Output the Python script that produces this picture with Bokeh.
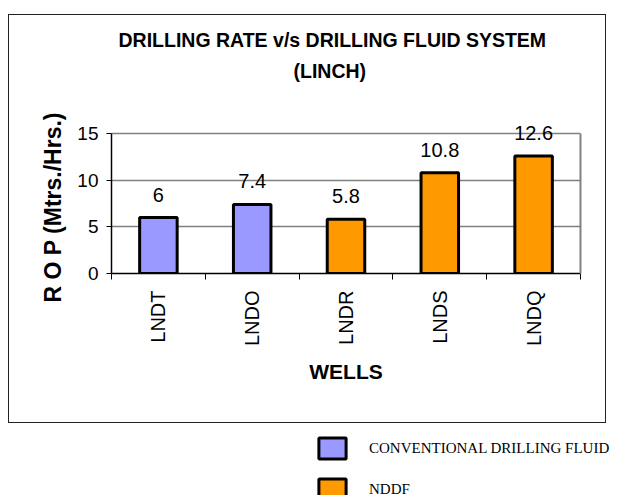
import math
import numpy as np
from bokeh.plotting import figure
from bokeh.layouts import column
from bokeh.models import (ColumnDataSource, FixedTicker, LabelSet, Range1d,
                          Title, LinearAxis, Legend, LegendItem)
from bokeh.core.properties import value
from bokeh.embed import file_html
from bokeh.resources import INLINE

# ---- data ----
wells = ["LNDT", "LNDO", "LNDR", "LNDS", "LNDQ"]
rop = [6, 7.4, 5.8, 10.8, 12.6]
fluid = ["CONVENTIONAL DRILLING FLUID", "CONVENTIONAL DRILLING FLUID",
         "NDDF", "NDDF", "NDDF"]
series_names = ["CONVENTIONAL DRILLING FLUID", "NDDF"]
series_colors = ["#9999FF", "#FF9900"]
y_ticks = [0, 5, 10, 15]
title_lines = ["DRILLING RATE v/s DRILLING FLUID SYSTEM", "(LINCH)"]
y_title = "R O P (Mtrs./Hrs.)"
x_title = "WELLS"

# ---- layout (pixels) ----
CW, CH = 598, 409                      # chart box (inside its border)
FL, FR, FT, FB = 102, 571, 67, 258     # frame edges inside the chart box
AREA_TOP = 118                         # where the value 15 sits (px)
Y_TOP = y_ticks[-1] * (FB - FT) / (FB - AREA_TOP)   # white headroom above 15

xpos = [i + 0.5 for i in range(len(wells))]
colors = [series_colors[series_names.index(f)] for f in fluid]
src = ColumnDataSource(dict(x=xpos, rop=rop, color=colors,
                            label=[f"{v:g}" for v in rop]))

p = figure(width=CW, height=CH, output_backend="svg", toolbar_location=None,
           x_range=Range1d(0, len(wells)), y_range=Range1d(0, Y_TOP),
           min_border_left=FL, min_border_right=CW - FR,
           min_border_top=FT, min_border_bottom=CH - FB,
           margin=(14, 0, 0, 8),
           styles={"border": "1px solid #222222"})
p.background_fill_color = "white"
p.border_fill_color = "white"
p.outline_line_color = None

bars = p.vbar(x="x", top="rop", width=0.4, source=src, fill_color="color",
              line_color="black", line_width=3)

# y axis
ya = p.yaxis[0]
ya.ticker = FixedTicker(ticks=y_ticks)
ya.bounds = (y_ticks[0], y_ticks[-1])
ya.major_label_text_font = "Liberation Sans"
ya.major_label_text_font_size = "19px"
ya.major_label_text_color = "black"
ya.major_label_standoff = 8
ya.major_tick_out = 5
ya.major_tick_in = 0
ya.minor_tick_line_color = None
ya.axis_line_color = "black"
ya.axis_line_width = 1.5
ya.major_tick_line_color = "black"

# y axis title (as a side title so it can sit lower than the frame centre)
p.add_layout(Title(text=y_title, align="left", offset=-29,
                   text_font="Liberation Sans", text_font_style="bold",
                   text_font_size="23px", text_color="black",
                   standoff=18), "left")

# right border of the plot area (grey), an axis with no ticks
ra = LinearAxis(bounds=(y_ticks[0], y_ticks[-1]), ticker=FixedTicker(ticks=[]),
                major_tick_line_color=None, minor_tick_line_color=None,
                axis_line_color="#808080", axis_line_width=2)
p.add_layout(ra, "right")

# x axis
xa = p.xaxis[0]
xa.ticker = FixedTicker(ticks=xpos, minor_ticks=list(range(len(wells) + 1)))
xa.major_label_overrides = {x: w for x, w in zip(xpos, wells)}
xa.major_label_orientation = math.pi / 2
xa.major_label_text_font = "Liberation Sans"
xa.major_label_text_font_size = "20px"
xa.major_label_text_color = "black"
xa.major_tick_line_color = None
xa.major_tick_out = 6
xa.major_tick_in = 0
xa.major_label_standoff = 11
xa.minor_tick_line_color = "black"
xa.minor_tick_out = 6
xa.minor_tick_in = 0
xa.axis_line_color = "black"
xa.axis_line_width = 1.5
xa.axis_label = x_title
xa.axis_label_text_font = "Liberation Sans"
xa.axis_label_text_font_style = "bold"
xa.axis_label_text_font_size = "21px"
xa.axis_label_text_color = "black"
xa.axis_label_standoff = 11

p.xgrid.grid_line_color = None
p.ygrid.ticker = FixedTicker(ticks=y_ticks)
p.ygrid.grid_line_color = "#808080"
p.ygrid.grid_line_width = 1.5

# value labels
p.add_layout(LabelSet(x="x", y="rop", text="label", source=src,
                      y_offset=16, text_align="center",
                      text_baseline="alphabetic",
                      text_font=value("Liberation Sans"),
                      text_font_size=value("20px"),
                      text_color="black"))

# title (two lines; first added sits closest to the plot)
p.add_layout(Title(text=title_lines[1], align="left", offset=182,
                   text_font="Liberation Sans", text_font_style="bold",
                   text_font_size="19.5px", text_color="black",
                   standoff=2), "above")
p.add_layout(Title(text=title_lines[0], align="left", offset=7,
                   text_font="Liberation Sans", text_font_style="bold",
                   text_font_size="19.5px", text_color="black",
                   standoff=12), "above")

# ---- legend strip below the chart box ----
# legend-only renderer: one row per series with no position (NaN), so only
# the legend swatches are drawn
LH = 72
q = figure(width=621, height=LH, output_backend="svg", toolbar_location=None,
           x_axis_type=None, y_axis_type=None,
           x_range=Range1d(0, 1), y_range=Range1d(0, 1),
           min_border_left=0, min_border_right=0,
           min_border_top=0, min_border_bottom=0)
q.outline_line_color = None
q.background_fill_color = "white"
q.border_fill_color = "white"
nan = np.full(len(series_names), np.nan)
leg_src = ColumnDataSource(dict(x=nan, top=nan.copy(), color=series_colors))
lr = q.vbar(x="x", top="top", width=0.4, source=leg_src, fill_color="color",
            line_color="black", line_width=3)
items = [LegendItem(label=name, renderers=[lr], index=i)
         for i, name in enumerate(series_names)]
leg = Legend(items=items, location=(315, -7), orientation="vertical",
             glyph_width=34, glyph_height=26, spacing=15, padding=0,
             margin=0, label_standoff=20, border_line_color=None,
             background_fill_alpha=0, label_text_font="Liberation Serif",
             label_text_font_size="15px", label_text_color="black",
             label_text_baseline="alphabetic")
q.add_layout(leg, "center")

for f in (p, q):
    if "frame_align" in f.properties():
        f.frame_align = False

layout = column(p, q, spacing=0)
open("out.html", "w").write(file_html(layout, INLINE))
